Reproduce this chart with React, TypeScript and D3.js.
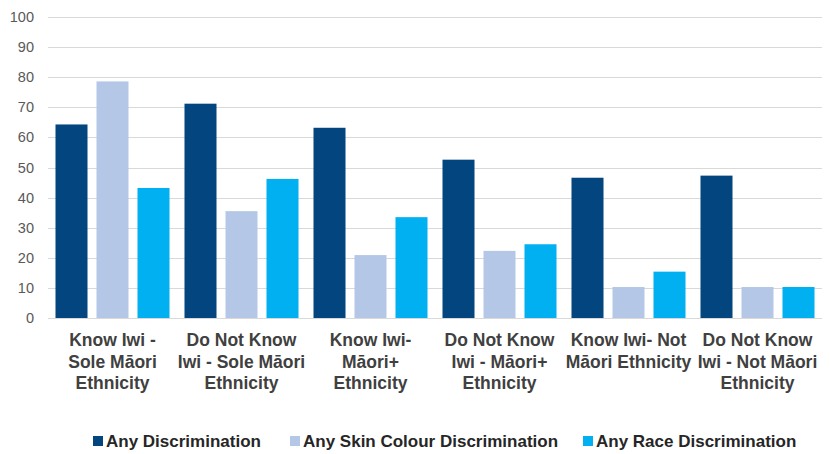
import React, { useRef, useEffect } from 'react';
import * as d3 from 'd3';

// Group labels, one line per array entry
const categories = [
  ['Know Iwi -', 'Sole Māori', 'Ethnicity'],
  ['Do Not Know', 'Iwi - Sole Māori', 'Ethnicity'],
  ['Know Iwi-', 'Māori+', 'Ethnicity'],
  ['Do Not Know', 'Iwi - Māori+', 'Ethnicity'],
  ['Know Iwi- Not', 'Māori Ethnicity'],
  ['Do Not Know', 'Iwi - Not Māori', 'Ethnicity'],
];

const seriesNames = ['Any Discrimination', 'Any Skin Colour Discrimination', 'Any Race Discrimination'];
const seriesColors = ['#03457f', '#b4c7e7', '#00b0f0'];

const anyDiscrimination = [64.3, 71.2, 63.2, 52.6, 46.6, 47.3];
const skinColourDiscrimination = [78.6, 35.5, 20.9, 22.3, 10.3, 10.3];
const raceDiscrimination = [43.2, 46.2, 33.5, 24.5, 15.4, 10.3];

const yTicks = [0, 10, 20, 30, 40, 50, 60, 70, 80, 90, 100];

const W = 830;
const H = 454;

const App: React.FC = () => {
  const svgRef = useRef<SVGSVGElement | null>(null);

  useEffect(() => {
    const svg = d3.select(svgRef.current);
    svg.selectAll('*').remove();

    const left = 48;
    const right = 822;
    const top = 17;
    const bottom = 318;

    const catKeys = categories.map((_, i) => String(i));
    const seriesData = [anyDiscrimination, skinColourDiscrimination, raceDiscrimination];

    const x0 = d3.scaleBand<string>()
      .domain(catKeys)
      .range([left, right])
      .paddingInner(15 / 129)
      .paddingOuter(7.5 / 129);

    const x1 = d3.scaleBand<string>()
      .domain(seriesNames)
      .range([0, x0.bandwidth()])
      .paddingInner(9 / 41)
      .paddingOuter(0);

    const y = d3.scaleLinear().domain([0, 100]).range([bottom, top]);

    svg.append('rect').attr('width', W).attr('height', H).attr('fill', '#ffffff');

    // gridlines
    svg.append('g')
      .selectAll('line')
      .data(yTicks)
      .enter()
      .append('line')
      .attr('x1', left)
      .attr('x2', right)
      .attr('y1', d => Math.round(y(d)) + 0.5)
      .attr('y2', d => Math.round(y(d)) + 0.5)
      .attr('stroke', '#d9d9d9')
      .attr('stroke-width', 1.2);

    // y labels
    svg.append('g')
      .selectAll('text')
      .data(yTicks)
      .enter()
      .append('text')
      .attr('x', 34)
      .attr('y', d => y(d) + 5)
      .attr('text-anchor', 'end')
      .attr('fill', '#595959')
      .attr('font-family', 'Liberation Sans, Arial, sans-serif')
      .attr('font-size', 14.5)
      .text(d => d);

    // bars
    seriesNames.forEach((name, si) => {
      svg.append('g')
        .selectAll('rect')
        .data(seriesData[si])
        .enter()
        .append('rect')
        .attr('x', (_, i) => (x0(catKeys[i]) || 0) + (x1(name) || 0))
        .attr('y', d => y(d))
        .attr('width', x1.bandwidth())
        .attr('height', d => y(0) - y(d))
        .attr('fill', seriesColors[si]);
    });

    // category labels
    const catG = svg.append('g');
    categories.forEach((lines, i) => {
      const cx = (x0(catKeys[i]) || 0) + x0.bandwidth() / 2;
      const t = catG.append('text')
        .attr('text-anchor', 'middle')
        .attr('fill', '#404040')
        .attr('font-family', 'Liberation Sans, Arial, sans-serif')
        .attr('font-weight', 'bold')
        .attr('font-size', 17.5);
      lines.forEach((line, li) => {
        t.append('tspan')
          .attr('x', cx)
          .attr('y', 346 + li * 21.5)
          .text(line);
      });
    });

    // legend
    const legendX = [93, 290, 583];
    const legend = svg.append('g');
    seriesNames.forEach((name, si) => {
      legend.append('rect')
        .attr('x', legendX[si])
        .attr('y', 436)
        .attr('width', 10)
        .attr('height', 10)
        .attr('fill', seriesColors[si]);
      legend.append('text')
        .attr('x', legendX[si] + 13)
        .attr('y', 446.5)
        .attr('fill', '#262626')
        .attr('font-family', 'Liberation Sans, Arial, sans-serif')
        .attr('font-weight', 'bold')
        .attr('font-size', 17)
        .text(name);
    });
  }, []);

  return (
    <div>
      <style>{'body{margin:0}'}</style>
      <svg ref={svgRef} width={W} height={H} style={{ display: 'block' }}></svg>
    </div>
  );
};

export default App;
